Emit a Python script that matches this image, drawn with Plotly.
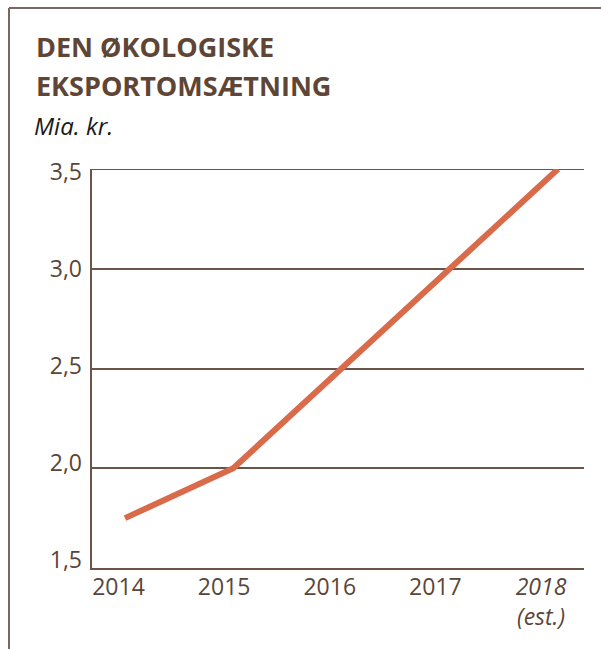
import plotly.graph_objects as go

years = [2014, 2015, 2016, 2017, 2018]
values = [1.75, 2.0, 2.5, 3.0, 3.5]
x_labels = ["2014", "2015", "2016", "2017", "<i>2018<br>(est.)</i>"]
y_ticks = [1.5, 2.0, 2.5, 3.0, 3.5]
y_labels = ["1,5", "2,0", "2,5", "3,0", "3,5"]

BROWN = "#6b5347"
FRAME = "#7a6860"
TEXT = "#5a4638"
ORANGE = "#d96b4a"
FONT = "Open Sans"

W, H = 601, 649
L, R, T, B = 92, 17, 169, 81
pw, ph = W - L - R, H - T - B

def px_x(px):
    return (px - L) / pw

def px_y(py):
    return (H - B - py) / ph

fig = go.Figure()
fig.add_trace(go.Scatter(
    x=years, y=values, mode="lines",
    line=dict(color=ORANGE, width=6),
    hoverinfo="skip", showlegend=False,
))
# invisible companion trace carrying the tick-label axes
fig.add_trace(go.Scatter(
    x=years, y=values, mode="lines", xaxis="x2", yaxis="y2",
    line=dict(color="rgba(0,0,0,0)", width=0),
    hoverinfo="skip", showlegend=False,
))

tickfont = dict(size=23, color=TEXT, family=FONT)

fig.update_layout(
    width=W, height=H,
    margin=dict(l=L, r=R, t=T, b=B),
    paper_bgcolor="white", plot_bgcolor="white",
    font=dict(family=FONT, color=TEXT, size=23),
    xaxis=dict(
        range=[2013.695, 2018.24],
        tickvals=years, showticklabels=False,
        showgrid=False, zeroline=False,
        showline=True, linecolor=BROWN, linewidth=2,
        ticks="", fixedrange=True,
    ),
    xaxis2=dict(
        overlaying="x", anchor="y", side="bottom",
        range=[2013.749, 2018.407],
        tickvals=years, ticktext=x_labels,
        showgrid=False, zeroline=False, showline=False,
        ticks="", ticklabelstandoff=3,
        tickfont=tickfont, fixedrange=True,
    ),
    yaxis=dict(
        range=[1.5, 3.5],
        tickvals=y_ticks, showticklabels=False,
        showgrid=True, gridcolor=BROWN, gridwidth=2,
        zeroline=False,
        showline=True, linecolor=BROWN, linewidth=2,
        ticks="", fixedrange=True,
    ),
    yaxis2=dict(
        overlaying="y", anchor="x", side="left",
        range=[1.4588, 3.5129],
        tickvals=y_ticks, ticktext=y_labels,
        showgrid=False, zeroline=False, showline=False,
        ticks="", ticklabelstandoff=9,
        tickfont=tickfont, fixedrange=True,
    ),
    shapes=[
        dict(type="line", xref="paper", yref="y",
             x0=0, x1=1, y0=y_ticks[-1], y1=y_ticks[-1],
             line=dict(color=BROWN, width=2), layer="below"),
        dict(type="line", xref="paper", yref="paper",
             x0=px_x(9), x1=px_x(W + 5), y0=px_y(8), y1=px_y(8),
             line=dict(color=FRAME, width=2)),
        dict(type="line", xref="paper", yref="paper",
             x0=px_x(9), x1=px_x(9), y0=px_y(8), y1=px_y(H + 5),
             line=dict(color=FRAME, width=2)),
    ],
    annotations=[
        dict(xref="paper", yref="paper", x=px_x(34), y=px_y(46.5),
             xanchor="left", yanchor="middle", showarrow=False,
             text="<b>DEN ØKOLOGISKE</b>",
             font=dict(size=27, color="#5e4536", family=FONT)),
        dict(xref="paper", yref="paper", x=px_x(34), y=px_y(85),
             xanchor="left", yanchor="middle", showarrow=False,
             text="<b>EKSPORTOMSÆTNING</b>",
             font=dict(size=27, color="#5e4536", family=FONT)),
        dict(xref="paper", yref="paper", x=px_x(32), y=px_y(125),
             xanchor="left", yanchor="middle", showarrow=False,
             text="<i>Mia. kr.</i>",
             font=dict(size=24, color="#1a1a1a", family=FONT)),
    ],
)

fig.write_html(
    "out.html",
    config={"displayModeBar": False},
    post_script="document.body.style.margin='0';document.body.style.overflow='hidden';",
)
